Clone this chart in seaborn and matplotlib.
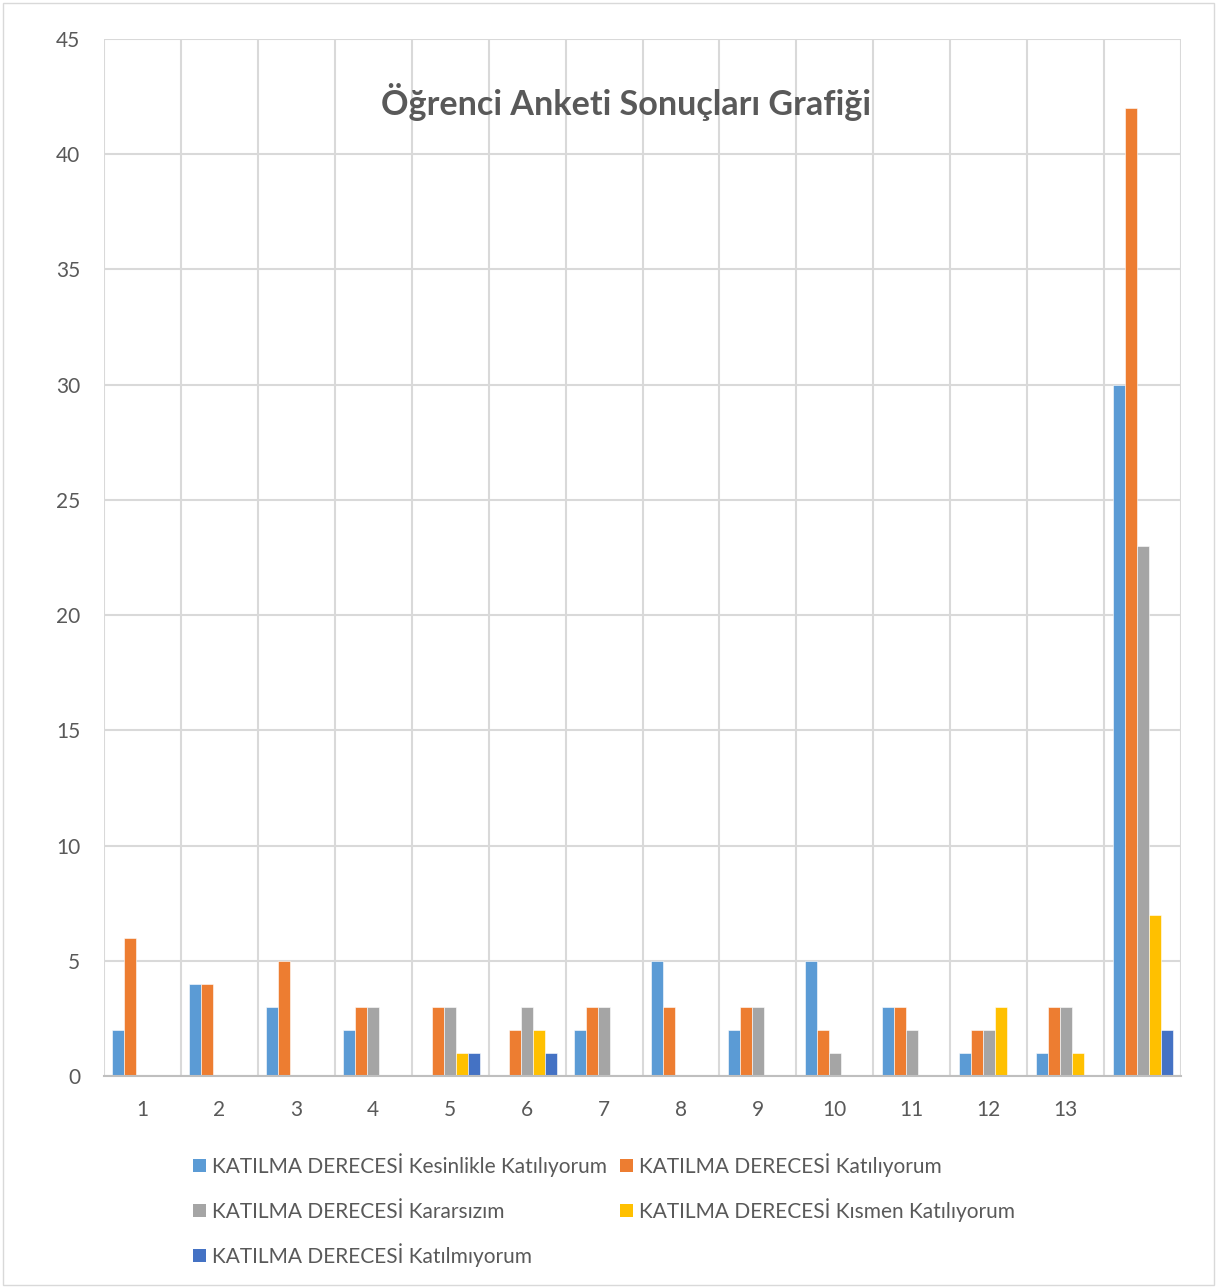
import numpy as np
import pandas as pd
import matplotlib
matplotlib.use("Agg")
import matplotlib.pyplot as plt
import seaborn as sns
from matplotlib.patches import Rectangle, Patch

categories = ["1", "2", "3", "4", "5", "6", "7", "8", "9", "10", "11", "12", "13", ""]
series_names = [
    "KATILMA DERECESİ Kesinlikle Katılıyorum",
    "KATILMA DERECESİ Katılıyorum",
    "KATILMA DERECESİ Kararsızım",
    "KATILMA DERECESİ Kısmen Katılıyorum",
    "KATILMA DERECESİ Katılmıyorum",
]
kesinlikle = [2, 4, 3, 2, 0, 0, 2, 5, 2, 5, 3, 1, 1, 30]
katiliyorum = [6, 4, 5, 3, 3, 2, 3, 3, 3, 2, 3, 2, 3, 42]
kararsizim = [0, 0, 0, 3, 3, 3, 3, 0, 3, 1, 2, 2, 3, 23]
kismen = [0, 0, 0, 0, 1, 2, 0, 0, 0, 0, 0, 3, 1, 7]
katilmiyorum = [0, 0, 0, 0, 1, 1, 0, 0, 0, 0, 0, 0, 0, 2]
colors = ["#5B9BD5", "#ED7D31", "#A5A5A5", "#FFC000", "#4472C4"]
title = "Öğrenci Anketi Sonuçları Grafiği"

cat_keys = [f"c{i}" for i in range(len(categories))]
rows = []
for name, vals in zip(series_names, [kesinlikle, katiliyorum, kararsizim, kismen, katilmiyorum]):
    for k, v in zip(cat_keys, vals):
        rows.append({"cat": k, "series": name, "value": v})
df = pd.DataFrame(rows)

sns.set_theme(style="white")
plt.rcParams["font.family"] = ["Lato", "DejaVu Sans"]
txt = "#595959"

W, H, dpi = 1217, 1288, 100
fig = plt.figure(figsize=(W / dpi, H / dpi), dpi=dpi)
ax = fig.add_axes([104 / W, 1 - 1076 / H, (1181 - 104) / W, (1076 - 39) / H])

sns.barplot(data=df, x="cat", y="value", hue="series", order=cat_keys,
            hue_order=series_names, palette=colors, width=0.78, gap=0,
            edgecolor="white", linewidth=0.4, saturation=1, ax=ax, legend=False)

ax.set_xlim(-0.5, len(categories) - 0.5)
ax.set_ylim(0, 45)
ax.set_yticks(range(0, 46, 5))
ax.set_xticks(range(len(categories)))
ax.set_xticklabels(categories)
ax.set_xticks(np.arange(-0.5, len(categories), 1), minor=True)
ax.set_xlabel("")
ax.set_ylabel("")
ax.grid(axis="y", which="major", color="#D9D9D9", linewidth=1.5)
ax.grid(axis="x", which="minor", color="#D9D9D9", linewidth=1.5)
ax.grid(axis="x", which="major", visible=False)
ax.set_axisbelow(True)
for s in ["left", "top", "right"]:
    ax.spines[s].set_visible(False)
ax.spines["bottom"].set_color("#BFBFBF")
ax.spines["bottom"].set_linewidth(1.5)
ax.tick_params(axis="both", which="both", length=0, labelsize=15, labelcolor=txt)
ax.tick_params(axis="y", pad=17)
ax.tick_params(axis="x", pad=17)

# legend entries: (series index, x of marker, y centre)
positions = [(0, 193, 1165), (1, 620, 1165), (2, 193, 1212), (3, 620, 1210), (4, 193, 1255)]
for idx, px, py in positions:
    fig.legend([Patch(facecolor=colors[idx], edgecolor="none")], [series_names[idx]],
               loc="center left", bbox_to_anchor=(px / W, 1 - py / H), borderaxespad=0,
               borderpad=0, frameon=False, fontsize=15.0, labelcolor=txt,
               handlelength=0.62, handleheight=0.62, handletextpad=0.3)

fig.text(626 / W, 1 - 102 / H, title, ha="center", va="center", fontsize=24.6,
         fontweight="bold", color=txt)

fig.patches.append(Rectangle((3 / W, 3 / H), (W - 6) / W, (H - 6) / H, transform=fig.transFigure,
                             fill=False, edgecolor="#D9D9D9", linewidth=1))

fig.savefig("out.png", dpi=dpi)
